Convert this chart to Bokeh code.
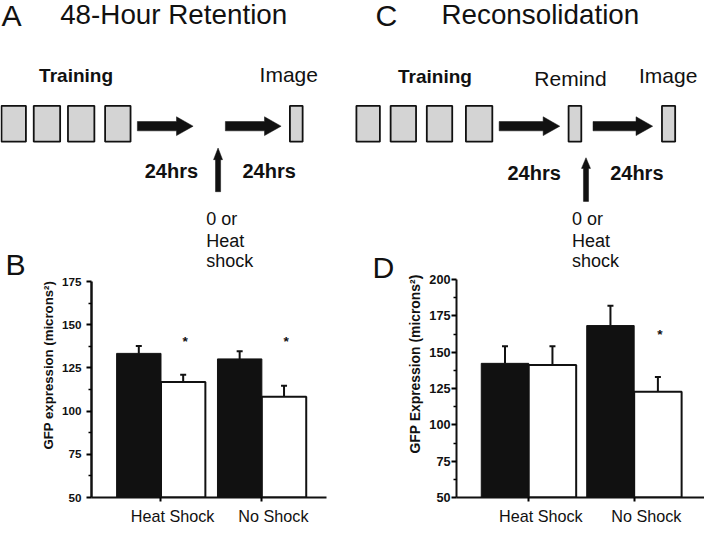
import math
from bokeh.plotting import figure
from bokeh.layouts import column, row
from bokeh.models import Range1d, Label, Whisker, TeeHead, ColumnDataSource, FixedTicker, Title
from bokeh.embed import file_html
from bokeh.resources import INLINE

# ---------------- data ----------------
groups = ["Heat Shock", "No Shock"]
group_pos = [1, 2]

b_black = [133.4, 130.2]
b_black_err = [4.3, 4.5]
b_white = [116.8, 108.3]
b_white_err = [4.3, 6.4]
b_sig = [True, True]
b_ticks = [50, 75, 100, 125, 150, 175]

d_black = [142.3, 168.3]
d_black_err = [11.7, 13.7]
d_white = [141.1, 122.7]
d_white_err = [12.9, 10.2]
d_sig = [False, True]
d_ticks = [50, 75, 100, 125, 150, 175, 200]

# ---------------- layout constants ----------------
W, H = 704, 527
REF_W, REF_H = 720.0, 543.0
SX, SY = W / REF_W, H / REF_H
FS = 0.975
SPLIT = 271          # page y where the bar panels start
SPLIT_C = 150        # page y below the right-hand schematic boxes
BASE_FIX = 0.37      # renderer draws alphabetic text this many em lower
FONT = "Liberation Sans"
INK = "#111111"
BOX_FILL = "#d4d4d4"


def px(v):
    return "%.1fpx" % (v * FS)


# ---------------- schematic geometry (reference pixel space) ----------------
box_l = [1, 34, 69, 107, 296, 364, 399, 436, 476, 581, 676.5]
box_r = [26, 61, 96, 133, 309, 388, 425, 462, 503, 594, 690]


def harrow(tail, hb, tip, cy=129.5, sh=4.8, hh=9.7):
    return [tail, hb, hb, tip, hb, hb, tail], [cy - sh, cy - sh, cy - hh, cy, cy + hh, cy + sh, cy + sh]


def varrow(cx, tp, hb, bt, sh=2.6, hh=4.6):
    return [cx - sh, cx - sh, cx - hh, cx, cx + hh, cx + sh, cx + sh], [bt, hb, hb, tp, hb, hb, bt]


arrows = [harrow(140, 180, 197), harrow(230, 270, 287), harrow(510, 555, 572), harrow(606, 650, 667),
          varrow(222.5, 152, 164, 197), varrow(598.8, 162, 173, 207)]

# (text, x, baseline y, size, bold)
texts = [
    ("A", 1, 27, 31, False), ("48-Hour Retention", 61, 25.5, 28.5, False),
    ("C", 383.5, 26.5, 31, False), ("Reconsolidation", 451, 25.5, 28.5, False),
    ("Training", 39.5, 85, 19.5, True), ("Training", 406.6, 85.5, 19.5, True),
    ("Image", 265, 84.5, 21.5, False), ("Image", 653, 85, 21.5, False),
    ("Remind", 546, 88, 21.5, False),
    ("24hrs", 147.5, 183, 20.5, True), ("24hrs", 247.5, 183, 20.5, True),
    ("24hrs", 518.5, 185, 20.5, True), ("24hrs", 623.5, 185, 20.5, True),
    ("0 or", 210.5, 232, 18.5, False), ("Heat", 210.5, 254.5, 18.5, False),
    ("shock", 210.5, 275, 18.5, False),
    ("0 or", 584.5, 232, 18.5, False), ("Heat", 584.5, 254.5, 18.5, False),
    ("shock", 584.5, 275, 18.5, False),
    ("B", 5, 284, 31, False), ("D", 380.5, 287, 31, False),
]


def add_text(p, x, y, text, size, bold=False, **kw):
    p.add_layout(Label(x=x, y=y, text=text, text_font=FONT, text_font_size=px(size),
                       text_font_style="bold" if bold else "normal", text_color=INK,
                       text_baseline=kw.pop("baseline", "alphabetic"),
                       text_align=kw.pop("align", "left"), **kw))


def tile(x0, x1, y0, y1):
    """A borderless figure covering page rect [x0,x1]x[y0,y1], in reference coordinates."""
    rx0, rx1, ry0, ry1 = x0 / SX, x1 / SX, y0 / SY, y1 / SY
    p = figure(width=x1 - x0, height=y1 - y0, x_range=Range1d(rx0, rx1), y_range=Range1d(ry1, ry0),
               output_backend="svg", toolbar_location=None, x_axis_location=None,
               y_axis_location=None, min_border=0)
    p.grid.visible = False
    p.outline_line_color = None
    p.quad(left=box_l, right=box_r, top=108.5, bottom=145.5, fill_color=BOX_FILL,
           line_color=INK, line_width=1.8)
    p.patches(xs=[a[0] for a in arrows], ys=[a[1] for a in arrows], fill_color=INK,
              line_color=INK, line_width=0.5)
    for (t, x, y, s, b) in texts:
        if rx0 <= x < rx1 and ry0 <= y < ry1:
            add_text(p, x, y - BASE_FIX * s * FS / SY, t, s, b)
    return p


# ---------------- bar panels ----------------
def bar_panel(x0, x1, fl, fr, ft, fb, xr, yr, ticks, black, black_err, white, white_err, sig,
              bar_w, tick_size, tick_standoff, axis_w, ast_ref_y,
              ylab, ylab_size, ylab_offset, ylab_standoff):
    w, h = x1 - x0, H - SPLIT
    fh = h - ft - fb
    p = figure(width=w, height=h, x_range=Range1d(*xr), y_range=Range1d(*yr),
               output_backend="svg", toolbar_location=None,
               min_border_left=fl, min_border_right=fr, min_border_top=ft, min_border_bottom=fb)
    p.grid.visible = False
    p.outline_line_color = None

    def ydata(ry):
        return yr[0] + (SPLIT + ft + fh - ry * SY) / fh * (yr[1] - yr[0])

    bx = [g - bar_w / 2 for g in group_pos]
    wx = [g + bar_w / 2 for g in group_pos]
    p.vbar(x=bx, top=black, bottom=yr[0], width=bar_w, fill_color=INK, line_color=INK, line_width=1)
    p.vbar(x=wx, top=white, bottom=yr[0], width=bar_w, fill_color="white", line_color=INK, line_width=2)

    xs = bx + wx
    vals = black + white
    errs = black_err + white_err
    src = ColumnDataSource(dict(x=xs, lower=vals, upper=[v + e for v, e in zip(vals, errs)]))
    p.add_layout(Whisker(base="x", lower="lower", upper="upper", source=src, line_color=INK,
                         line_width=2, lower_head=None,
                         upper_head=TeeHead(size=6, line_width=2, line_color=INK)))

    ya = p.yaxis[0]
    ya.ticker = FixedTicker(ticks=ticks, minor_ticks=[(a + b) / 2 for a, b in zip(ticks, ticks[1:])])
    ya.axis_line_width = axis_w
    ya.axis_line_color = INK
    ya.major_tick_in = 0
    ya.major_tick_out = 5
    ya.major_tick_line_width = 2
    ya.minor_tick_in = 0
    ya.minor_tick_out = 3
    ya.minor_tick_line_width = 1.5
    ya.major_label_text_font = FONT
    ya.major_label_text_font_style = "bold"
    ya.major_label_text_font_size = px(tick_size)
    ya.major_label_text_color = INK
    ya.major_label_standoff = tick_standoff

    # y-axis title as a side title, starting a little above the frame bottom
    p.add_layout(Title(text=ylab, align="left", offset=ylab_offset, standoff=ylab_standoff,
                       text_font=FONT, text_font_size=px(ylab_size), text_font_style="bold",
                       text_color=INK), "left")

    # category names sit slightly right of the group centre (tick marks drawn as minor ticks)
    lab_pos = [g + 0.115 for g in group_pos]
    xa = p.xaxis[0]
    xa.ticker = FixedTicker(ticks=lab_pos, minor_ticks=group_pos)
    xa.major_label_overrides = {lp: n for lp, n in zip(lab_pos, groups)}
    xa.major_label_text_font = FONT
    xa.major_label_text_font_size = px(16.6)
    xa.major_label_text_color = INK
    xa.major_label_standoff = 5
    xa.axis_line_width = 2
    xa.axis_line_color = INK
    xa.major_tick_in = 0
    xa.major_tick_out = 0
    xa.minor_tick_in = 0
    xa.minor_tick_out = 4
    xa.minor_tick_line_width = 2

    ay = ydata(ast_ref_y) + BASE_FIX * 14 * FS * (yr[1] - yr[0]) / fh
    for x, s in zip(wx, sig):
        if s:
            add_text(p, x, ay, "*", 14, bold=True, align="center", x_offset=2)
    return p


# left half: strip with A/B | schematic A over bar chart B
stripL = tile(0, 29, 0, H)
topA = tile(29, 352, 0, SPLIT)
pB = bar_panel(29, 352, 62, 26, 10, 30, (0.311, 2.641), (50, 175), b_ticks,
               b_black, b_black_err, b_white, b_white_err, b_sig, 0.44, 12, 5, 2.5, 357,
               "GFP expression (microns\u00b2)", 13.5, 48, 6)

# right half: schematic C over (strip with D | rest of schematic over bar chart D)
topC = tile(352, 704, 0, SPLIT_C)
stripR = tile(352, 397, SPLIT_C, H)
midC = tile(397, 704, SPLIT_C, SPLIT)
pD = bar_panel(397, 704, 59, 0, 8, 30, (0.315, 2.667), (50, 200), d_ticks,
               d_black, d_black_err, d_white, d_white_err, d_sig, 0.45, 13, 1, 2, 349,
               "GFP Expression (microns\u00b2)", 14.3, 44, 8)

# bar panels are wrapped in their own rows so the tiles above keep their own frames
left = row(stripL, column(topA, row(pB)))
right = column(topC, row(stripR, column(midC, row(pD))))
layout = row(left, right)

open("out.html", "w").write(file_html(layout, INLINE))
